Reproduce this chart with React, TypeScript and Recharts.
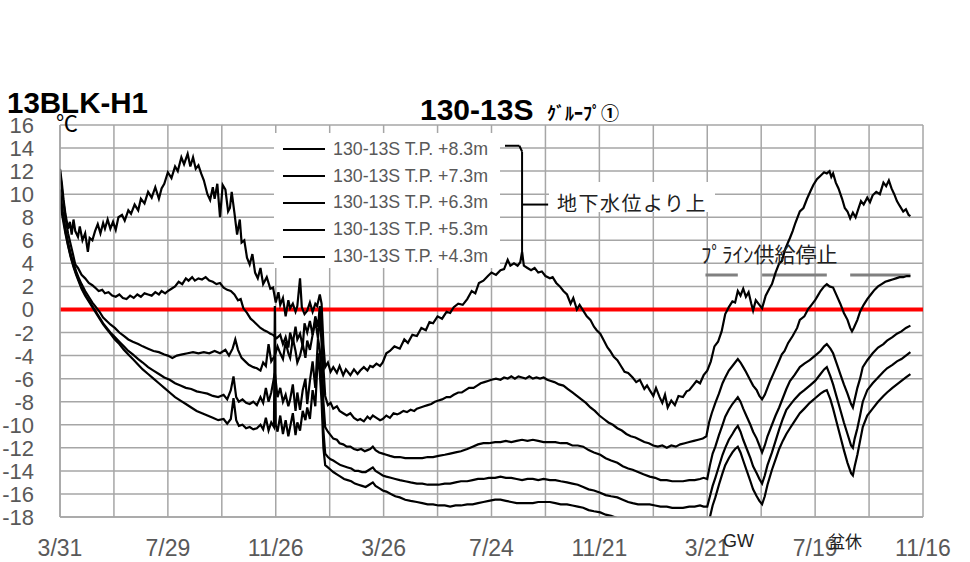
import React from 'react';
import { LineChart, Line, XAxis, YAxis, CartesianGrid, ReferenceLine, Legend } from 'recharts';

const xGridDays = [0, 60, 120, 180, 240, 300, 360, 420, 480, 540, 600, 660, 720, 780, 840, 900, 960];
const xLabelDays = [0, 120, 240, 360, 480, 600, 720, 840, 960];
const xLabels = ['3/31', '7/29', '11/26', '3/26', '7/24', '11/21', '3/21', '7/19', '11/16'];
const yTicks = [-18, -16, -14, -12, -10, -8, -6, -4, -2, 0, 2, 4, 6, 8, 10, 12, 14, 16];

const seriesNames = [
  '130-13S T.P. +8.3m',
  '130-13S T.P. +7.3m',
  '130-13S T.P. +6.3m',
  '130-13S T.P. +5.3m',
  '130-13S T.P. +4.3m',
];

// [day since 3/31, temperature °C]
const s83: [number, number][] = [
  [0, 12.2], [2, 11.0], [4, 9.5], [6, 8.3], [9, 7.0], [11, 7.6], [13, 6.5], [15, 7.8], [17, 6.8], [20, 6.3],
  [22, 7.2], [25, 6.0], [28, 6.6], [31, 5.0], [33, 6.2], [36, 6.0], [39, 6.8], [42, 7.4], [45, 6.6], [48, 7.5],
  [50, 7.0], [53, 7.8], [56, 7.0], [59, 7.6], [62, 6.9], [65, 8.0], [69, 8.2], [72, 7.7], [76, 8.6], [79, 8.3],
  [83, 9.1], [87, 8.6], [90, 9.6], [94, 9.2], [98, 10.2], [102, 9.7], [106, 10.6], [110, 9.6], [113, 10.5], [116, 10.9],
  [120, 11.9], [124, 11.4], [128, 12.4], [131, 12.0], [135, 13.2], [138, 12.6], [142, 13.5], [145, 12.4], [148, 13.2], [151, 12.2],
  [154, 12.5], [157, 11.8], [160, 11.2], [164, 10.0], [167, 9.5], [170, 10.6], [172, 9.6], [175, 10.9], [178, 8.0], [181, 10.8],
  [184, 10.4], [187, 8.5], [189, 8.8], [191, 10.2], [194, 8.4], [197, 6.5], [200, 7.8], [202, 5.8], [205, 6.0], [208, 4.5],
  [211, 3.9], [214, 4.8], [217, 3.2], [220, 2.7], [223, 3.6], [226, 2.2], [230, 2.8], [234, 1.8], [237, 1.9], [240, 0.6],
  [243, 1.5], [245, 0.4], [248, 1.0], [251, -0.6], [254, 0.8], [256, 0.1], [259, 0.5], [262, -0.2], [264, 0.3], [267, 2.7],
  [269, 0.2], [272, -0.4], [275, -0.1], [278, 0.6], [281, -0.2], [284, 0.5], [286, 0.3], [289, 1.3], [291, 0.5], [293, -3.0],
  [295, -5.0], [298, -4.6], [301, -5.4], [304, -5.0], [308, -5.5], [311, -4.9], [315, -5.7], [318, -5.2], [323, -5.7], [327, -5.2],
  [331, -5.6], [334, -5.3], [338, -5.0], [342, -5.3], [345, -4.9], [348, -5.0], [352, -4.7], [356, -4.9], [359, -4.6], [363, -3.8],
  [367, -3.6], [372, -3.2], [378, -3.4], [383, -2.6], [387, -2.9], [392, -2.2], [397, -2.3], [402, -1.6], [407, -1.8], [411, -1.1],
  [415, -1.2], [420, -0.6], [425, -0.8], [430, -0.2], [434, -0.3], [438, 0.2], [443, 0.5], [448, 0.4], [453, 0.9], [458, 1.6],
  [462, 1.4], [466, 2.3], [471, 2.5], [476, 2.9], [480, 3.2], [485, 3.0], [490, 3.4], [494, 3.5], [498, 4.3], [501, 3.8],
  [505, 4.0], [509, 3.8], [512, 4.1], [514, 5.0], [516, 3.8], [520, 3.6], [524, 3.4], [528, 3.6], [532, 3.2], [536, 3.3],
  [540, 2.9], [545, 2.7], [548, 2.8], [552, 2.3], [556, 2.0], [560, 1.6], [564, 1.3], [568, 0.5], [571, 1.0], [575, 0.0],
  [578, 0.4], [582, -0.1], [586, -0.6], [590, -0.9], [594, -1.5], [597, -1.8], [601, -2.1], [605, -2.7], [609, -3.3], [612, -3.6],
  [616, -4.1], [620, -4.4], [624, -4.9], [628, -5.4], [632, -5.5], [637, -5.9], [641, -6.3], [645, -6.1], [650, -6.9], [653, -6.6],
  [656, -7.0], [660, -7.5], [663, -6.8], [667, -7.6], [670, -8.1], [673, -7.4], [676, -8.5], [680, -7.9], [684, -8.3], [688, -7.5],
  [693, -7.6], [697, -7.1], [700, -7.0], [704, -6.6], [708, -6.2], [712, -6.4], [716, -5.7], [720, -5.3], [724, -4.5], [728, -3.2],
  [732, -2.8], [736, -1.9], [740, -0.4], [744, 0.2], [748, 0.7], [751, 0.6], [754, 1.6], [757, 1.2], [760, 1.8], [763, 1.1],
  [766, 1.5], [769, 0.5], [771, -0.1], [774, 0.8], [778, 0.4], [781, 0.1], [785, 1.2], [789, 1.8], [792, 2.2], [796, 3.2],
  [800, 4.0], [803, 4.2], [807, 5.3], [812, 6.2], [815, 6.8], [818, 7.5], [823, 8.5], [827, 8.8], [831, 9.6], [835, 10.3],
  [838, 10.8], [842, 11.3], [846, 11.6], [850, 11.9], [853, 11.8], [856, 12.0], [858, 11.5], [860, 11.8], [863, 11.0], [866, 10.5],
  [870, 9.6], [873, 8.8], [876, 8.5], [879, 7.9], [882, 8.4], [885, 8.0], [888, 8.7], [891, 9.4], [894, 9.1], [898, 9.7],
  [901, 9.3], [904, 9.9], [908, 10.2], [912, 10.0], [916, 11.0], [919, 10.7], [922, 11.2], [925, 10.5], [928, 10.0], [931, 9.4],
  [934, 9.0], [938, 8.5], [941, 8.7], [944, 8.2], [946, 8.1],
];

const s73: [number, number][] = [
  [0, 12.0], [3, 9.8], [6, 8.0], [9, 6.6], [12, 5.6], [15, 4.6], [17, 3.9], [20, 3.6], [24, 3.0], [28, 2.7],
  [32, 2.3], [36, 2.1], [39, 1.9], [43, 1.6], [47, 1.7], [50, 1.4], [54, 1.5], [58, 1.2], [62, 1.1], [66, 1.3],
  [70, 1.0], [74, 0.9], [78, 1.2], [82, 1.0], [86, 1.3], [90, 1.1], [94, 1.4], [98, 1.3], [102, 1.2], [106, 1.5],
  [110, 1.3], [113, 1.6], [117, 1.4], [120, 1.6], [124, 1.8], [128, 2.0], [132, 2.4], [136, 2.2], [140, 2.7], [143, 2.5],
  [147, 2.8], [150, 2.5], [154, 2.7], [158, 2.6], [162, 2.8], [166, 2.5], [170, 2.4], [174, 2.2], [178, 2.3], [182, 1.9],
  [186, 1.7], [190, 1.6], [194, 1.3], [198, 0.8], [201, 0.9], [204, 0.1], [208, -0.3], [212, -0.8], [215, -1.0], [219, -1.3],
  [223, -1.6], [227, -1.8], [230, -1.9], [234, -2.1], [237, -2.2], [241, -2.5], [245, -2.2], [248, -3.0], [251, -2.4], [254, -3.3],
  [256, -2.0], [259, -2.9], [262, -1.5], [264, -2.6], [267, -2.1], [270, -3.2], [272, -1.2], [275, -2.0], [278, -1.0], [281, -2.2],
  [284, -0.6], [287, -1.5], [289, 0.3], [291, -1.0], [293, -5.0], [295, -7.5], [298, -8.3], [301, -8.1], [304, -8.6], [308, -8.4],
  [311, -8.8], [315, -9.0], [319, -9.2], [323, -9.0], [327, -9.4], [331, -9.6], [334, -9.5], [338, -9.7], [342, -9.3], [345, -9.5],
  [348, -9.2], [352, -9.4], [356, -9.6], [359, -9.5], [363, -9.2], [367, -9.4], [371, -9.0], [375, -9.1], [378, -9.0], [382, -8.8],
  [386, -8.9], [390, -8.7], [394, -8.8], [397, -8.6], [401, -8.5], [405, -8.4], [409, -8.3], [413, -8.2], [417, -8.0], [421, -7.9],
  [425, -7.8], [430, -7.6], [434, -7.6], [438, -7.4], [443, -7.2], [447, -7.2], [451, -7.0], [455, -6.8], [460, -6.8], [464, -6.6],
  [468, -6.4], [472, -6.3], [476, -6.2], [480, -6.1], [485, -6.0], [490, -6.1], [494, -5.9], [498, -6.0], [502, -5.8], [506, -6.0],
  [510, -5.8], [514, -5.9], [518, -6.0], [522, -5.8], [526, -6.0], [530, -5.9], [534, -6.0], [538, -5.9], [542, -6.1], [546, -6.2],
  [550, -6.3], [555, -6.5], [560, -6.6], [565, -6.9], [570, -7.2], [575, -7.5], [580, -7.8], [585, -8.1], [590, -8.5], [595, -8.8],
  [600, -9.2], [605, -9.5], [610, -9.8], [615, -10.0], [620, -10.3], [625, -10.5], [630, -10.8], [635, -11.0], [640, -11.1], [645, -11.3],
  [650, -11.5], [655, -11.6], [660, -11.8], [665, -11.9], [670, -11.8], [675, -12.0], [680, -11.8], [685, -11.9], [690, -11.7], [695, -11.6],
  [700, -11.5], [705, -11.4], [710, -11.3], [715, -11.2], [719, -11.0], [722, -9.8], [725, -9.0], [729, -8.1], [733, -7.3], [737, -6.4],
  [740, -5.9], [744, -5.3], [748, -4.9], [751, -4.6], [754, -4.3], [757, -4.6], [760, -5.0], [763, -5.4], [767, -6.0], [771, -6.6],
  [775, -7.0], [778, -7.5], [781, -7.8], [784, -7.4], [787, -6.8], [790, -6.2], [794, -5.5], [798, -4.8], [803, -3.9], [806, -3.6],
  [810, -2.9], [815, -2.3], [820, -1.6], [823, -0.9], [828, -0.6], [832, 0.0], [836, 0.4], [840, 0.8], [843, 1.2], [846, 1.6],
  [850, 2.0], [853, 2.2], [856, 2.0], [860, 1.9], [864, 1.2], [868, 0.5], [872, -0.3], [876, -0.9], [879, -1.6], [881, -1.9],
  [883, -1.6], [887, -0.9], [890, -0.2], [894, 0.4], [898, 0.9], [902, 1.3], [906, 1.7], [910, 2.0], [914, 2.2], [918, 2.4],
  [922, 2.5], [926, 2.6], [930, 2.7], [934, 2.8], [938, 2.8], [942, 2.9], [946, 2.9],
];

const s63: [number, number][] = [
  [0, 10.4], [3, 8.5], [6, 7.0], [9, 5.8], [12, 4.8], [15, 4.0], [18, 3.3], [21, 2.7], [24, 2.2], [28, 1.6],
  [32, 1.1], [36, 0.6], [40, 0.2], [44, -0.2], [48, -0.7], [52, -1.0], [56, -1.3], [61, -1.6], [66, -2.0], [71, -2.3],
  [76, -2.6], [81, -2.8], [87, -3.0], [92, -3.2], [98, -3.4], [104, -3.6], [110, -3.7], [116, -3.9], [120, -4.0], [125, -4.2],
  [130, -4.0], [136, -3.9], [142, -3.8], [148, -3.7], [154, -3.8], [160, -3.7], [166, -3.8], [172, -3.6], [178, -3.8], [184, -3.5],
  [188, -4.0], [192, -3.4], [195, -2.6], [198, -3.5], [202, -4.2], [206, -4.5], [210, -4.8], [215, -5.0], [219, -5.1], [223, -5.3],
  [226, -4.6], [229, -4.9], [232, -3.0], [235, -4.5], [239, -4.0], [242, -3.2], [245, -3.8], [248, -4.3], [251, -2.8], [254, -3.8],
  [256, -4.2], [259, -2.5], [262, -3.6], [264, -4.6], [267, -4.0], [270, -3.0], [273, -4.2], [275, -2.7], [278, -3.5], [281, -2.2],
  [284, -1.0], [287, -2.5], [289, -0.4], [291, -3.0], [293, -8.0], [295, -10.2], [298, -10.6], [301, -10.9], [304, -11.2], [308, -11.3],
  [311, -11.6], [315, -11.7], [319, -11.9], [323, -11.9], [327, -12.1], [331, -12.2], [335, -12.1], [339, -12.3], [342, -12.2], [345, -12.1],
  [348, -11.9], [351, -12.2], [355, -12.4], [359, -12.5], [363, -12.6], [367, -12.7], [372, -12.8], [378, -12.8], [384, -12.9], [390, -12.9],
  [397, -12.9], [403, -12.9], [409, -12.8], [415, -12.8], [421, -12.7], [428, -12.6], [434, -12.5], [440, -12.4], [446, -12.3], [453, -12.1],
  [459, -11.9], [465, -11.7], [471, -11.6], [477, -11.6], [484, -11.5], [490, -11.5], [496, -11.4], [502, -11.5], [508, -11.4], [514, -11.3],
  [520, -11.4], [526, -11.3], [532, -11.4], [538, -11.5], [545, -11.5], [551, -11.5], [557, -11.6], [564, -11.6], [570, -11.8], [576, -11.8],
  [582, -11.9], [588, -12.2], [594, -12.4], [601, -12.6], [607, -12.9], [613, -13.1], [620, -13.3], [626, -13.6], [632, -13.8], [637, -13.9],
  [643, -14.1], [649, -14.3], [656, -14.5], [662, -14.6], [668, -14.8], [675, -14.8], [681, -14.9], [687, -14.9], [693, -14.9], [700, -14.8],
  [706, -14.8], [712, -14.7], [716, -14.6], [720, -14.7], [723, -13.5], [726, -12.5], [729, -11.9], [733, -10.9], [737, -10.0], [740, -9.3],
  [744, -8.7], [748, -8.2], [751, -7.9], [754, -7.6], [757, -8.0], [760, -8.6], [764, -9.3], [768, -10.0], [771, -10.6], [775, -11.2],
  [778, -11.8], [781, -12.4], [784, -11.8], [787, -11.0], [792, -10.0], [796, -9.2], [800, -8.5], [804, -7.7], [808, -6.9], [812, -6.2],
  [817, -5.7], [823, -5.0], [828, -4.7], [834, -4.4], [840, -4.0], [846, -3.6], [850, -3.2], [853, -3.0], [857, -3.4], [860, -3.8],
  [864, -4.7], [868, -5.6], [872, -6.5], [876, -7.3], [880, -8.2], [882, -8.5], [884, -7.8], [887, -6.8], [890, -6.0], [893, -5.0],
  [898, -4.4], [904, -3.8], [910, -3.3], [916, -3.0], [920, -2.7], [926, -2.4], [931, -2.1], [936, -1.9], [941, -1.6], [946, -1.4],
];

const s53: [number, number][] = [
  [0, 10.0], [3, 8.3], [6, 6.8], [9, 5.6], [12, 4.6], [15, 3.8], [18, 3.1], [21, 2.5], [24, 1.9], [28, 1.3],
  [32, 0.8], [36, 0.3], [40, -0.2], [44, -0.7], [48, -1.2], [52, -1.6], [56, -2.0], [61, -2.4], [66, -2.8], [71, -3.2],
  [76, -3.6], [81, -3.9], [87, -4.3], [92, -4.6], [98, -5.0], [104, -5.3], [110, -5.6], [116, -5.9], [122, -6.1], [128, -6.4],
  [134, -6.6], [140, -6.8], [146, -6.9], [152, -7.1], [158, -7.2], [164, -7.3], [170, -7.5], [176, -7.6], [182, -7.4], [186, -7.8],
  [190, -7.0], [193, -5.8], [196, -7.6], [199, -8.0], [203, -7.8], [207, -8.1], [211, -8.2], [215, -8.0], [219, -8.3], [223, -7.6],
  [226, -8.1], [229, -6.8], [232, -8.0], [235, -7.2], [239, -5.5], [242, -7.6], [245, -6.8], [248, -8.0], [251, -7.4], [254, -8.4],
  [256, -7.8], [259, -6.5], [262, -8.8], [264, -7.2], [267, -8.7], [270, -7.0], [273, -6.0], [275, -8.2], [278, -6.2], [281, -4.5],
  [284, -6.8], [287, -2.5], [289, -3.5], [291, -6.0], [293, -10.5], [295, -12.5], [298, -12.8], [301, -13.0], [304, -13.1], [308, -13.3],
  [312, -13.5], [316, -13.6], [320, -13.7], [324, -13.8], [328, -14.0], [332, -14.0], [336, -14.1], [340, -14.1], [344, -13.9], [348, -13.7],
  [351, -14.0], [355, -14.2], [359, -14.4], [363, -14.5], [368, -14.6], [373, -14.7], [378, -14.8], [384, -14.9], [390, -15.0], [397, -15.1],
  [403, -15.1], [409, -15.2], [415, -15.2], [421, -15.2], [428, -15.1], [434, -15.1], [440, -15.0], [446, -14.9], [453, -14.9], [459, -14.8],
  [465, -14.7], [471, -14.7], [477, -14.6], [484, -14.6], [490, -14.5], [496, -14.6], [502, -14.6], [508, -14.7], [514, -14.8], [520, -14.7],
  [526, -14.7], [532, -14.8], [538, -14.7], [545, -14.8], [551, -14.8], [557, -14.9], [564, -15.0], [570, -15.1], [576, -15.2], [582, -15.4],
  [588, -15.6], [594, -15.7], [601, -15.9], [607, -16.1], [613, -16.2], [620, -16.3], [626, -16.5], [632, -16.7], [637, -16.8], [643, -16.9],
  [649, -16.9], [656, -16.9], [662, -17.0], [668, -17.1], [675, -17.1], [681, -17.2], [687, -17.2], [693, -17.2], [700, -17.1], [706, -17.1],
  [712, -17.0], [716, -17.1], [720, -17.1], [723, -16.2], [726, -15.3], [729, -14.6], [733, -13.6], [737, -12.6], [740, -12.0], [744, -11.3],
  [748, -10.8], [751, -10.4], [754, -10.1], [757, -10.6], [760, -11.3], [764, -12.1], [768, -12.9], [771, -13.6], [775, -14.2], [778, -14.7],
  [781, -15.1], [784, -14.4], [787, -13.5], [792, -12.4], [796, -11.4], [800, -10.4], [804, -9.5], [808, -8.7], [812, -8.3], [817, -7.8],
  [823, -7.3], [828, -7.0], [834, -6.6], [840, -6.2], [846, -5.6], [850, -5.2], [853, -5.0], [857, -5.8], [860, -6.5], [864, -7.6],
  [868, -8.7], [872, -9.8], [876, -10.8], [880, -11.8], [882, -12.0], [884, -11.2], [887, -10.3], [890, -9.2], [893, -8.0], [898, -7.0],
  [904, -6.4], [910, -5.9], [916, -5.4], [920, -5.1], [926, -4.8], [931, -4.5], [936, -4.3], [941, -4.0], [946, -3.7],
];

const s43: [number, number][] = [
  [0, 9.4], [3, 7.9], [6, 6.6], [9, 5.5], [12, 4.5], [15, 3.7], [18, 3.0], [21, 2.4], [24, 1.8], [28, 1.2],
  [32, 0.7], [36, 0.2], [40, -0.3], [44, -0.8], [48, -1.3], [52, -1.7], [56, -2.1], [61, -2.6], [66, -3.0], [71, -3.5],
  [76, -3.9], [81, -4.3], [87, -4.8], [92, -5.2], [98, -5.6], [104, -6.0], [110, -6.4], [116, -6.8], [122, -7.2], [128, -7.6],
  [134, -7.9], [140, -8.2], [146, -8.5], [152, -8.8], [158, -9.0], [164, -9.2], [170, -9.4], [176, -9.6], [182, -9.5], [186, -9.9],
  [190, -9.5], [193, -7.7], [196, -9.6], [199, -10.1], [203, -10.0], [207, -10.3], [211, -10.2], [215, -10.4], [219, -10.3], [223, -10.0],
  [226, -10.4], [229, -9.4], [232, -10.5], [235, -9.8], [238, -10.2], [239, 0.3], [240, -10.0], [242, -10.6], [245, -9.2], [248, -10.8],
  [251, -9.6], [254, -11.0], [256, -10.2], [259, -9.0], [262, -10.9], [264, -9.8], [267, -10.5], [270, -8.8], [273, -9.6], [275, -8.5],
  [278, -9.5], [281, -7.0], [284, -8.4], [287, -3.8], [289, -5.5], [291, -8.0], [293, -12.0], [295, -13.5], [298, -13.7], [301, -13.9],
  [304, -14.1], [308, -14.3], [312, -14.5], [316, -14.7], [320, -14.8], [324, -14.9], [328, -15.1], [332, -15.2], [336, -15.3], [340, -15.4],
  [344, -15.2], [348, -15.0], [351, -15.3], [355, -15.5], [359, -15.7], [363, -15.8], [368, -16.0], [373, -16.2], [378, -16.3], [384, -16.5],
  [390, -16.6], [397, -16.7], [403, -16.8], [409, -16.9], [415, -16.9], [421, -17.0], [428, -17.0], [434, -17.1], [440, -17.0], [446, -17.0],
  [453, -16.9], [459, -16.9], [465, -16.8], [471, -16.7], [477, -16.6], [484, -16.5], [490, -16.5], [496, -16.6], [502, -16.7], [508, -16.8],
  [514, -16.8], [520, -16.8], [526, -16.8], [532, -16.7], [538, -16.7], [545, -16.7], [551, -16.8], [557, -16.9], [564, -16.9], [570, -17.0],
  [576, -17.1], [582, -17.2], [588, -17.4], [594, -17.5], [601, -17.6], [607, -17.8], [613, -17.9], [620, -18.1], [626, -18.3], [632, -18.4],
  [640, -18.5], [650, -18.6], [660, -18.7], [670, -18.8], [680, -18.9], [690, -18.9], [700, -18.9], [710, -18.8], [720, -18.8], [723, -18.0],
  [726, -17.0], [729, -16.3], [733, -15.2], [737, -14.2], [740, -13.5], [744, -12.9], [748, -12.4], [751, -12.1], [754, -11.9], [757, -12.4],
  [760, -13.1], [764, -14.0], [768, -14.9], [771, -15.6], [775, -16.2], [778, -16.6], [781, -16.9], [784, -16.2], [787, -15.2], [792, -13.9],
  [796, -13.0], [800, -12.1], [804, -11.4], [808, -10.8], [812, -10.3], [817, -9.7], [823, -9.0], [828, -8.6], [834, -8.1], [840, -7.7],
  [846, -7.3], [850, -7.1], [853, -7.0], [857, -7.8], [860, -8.6], [864, -9.8], [868, -11.0], [872, -12.2], [876, -13.3], [880, -14.2],
  [882, -14.4], [884, -13.6], [887, -12.6], [890, -11.4], [893, -10.2], [898, -9.2], [904, -8.6], [910, -8.0], [916, -7.5], [920, -7.2],
  [926, -6.8], [931, -6.5], [936, -6.2], [941, -5.9], [946, -5.6],
];

const seriesValues = [s83, s73, s63, s53, s43];

// brine supply stopped periods (days) at 3 °C
const brineStopPeriods: [number, number][] = [[718, 754], [781, 853], [879, 946]];
const brineLevel = 3;

const LATIN = "'Liberation Sans', Arial, sans-serif";
const CJK = "'Noto Sans CJK JP', 'Liberation Sans', sans-serif";
const GRID = '#a6a6a6';
const AXIS_TEXT = '#595959';

const toRows = (arr: [number, number][]) => arr.map(([d, v]) => ({ d, v }));

const XTick = (props: any) => {
  const { x, payload } = props;
  const i = xLabelDays.indexOf(payload.value);
  if (i < 0) return <g />;
  return (
    <text x={x} y={556} textAnchor="middle" fill={AXIS_TEXT} fontSize={23} fontFamily={LATIN}>
      {xLabels[i]}
    </text>
  );
};

const YTick = (props: any) => {
  const { y, payload } = props;
  return (
    <text x={34} y={y} dy={8} textAnchor="end" fill={AXIS_TEXT} fontSize={22} fontFamily={LATIN}>
      {payload.value}
    </text>
  );
};

const LegendBox = () => (
  <div style={{ background: '#fff', width: 226, height: 135, paddingTop: 3, boxSizing: 'border-box' }}>
    {seriesNames.map((name, i) => (
      <div key={i} style={{ display: 'flex', alignItems: 'center', height: 26.8 }}>
        <svg width={51} height={10} style={{ flex: 'none' }}>
          <line x1={9} y1={5} x2={51} y2={5} stroke="#000" strokeWidth={2} />
        </svg>
        <span style={{ marginLeft: 8, fontFamily: LATIN, fontSize: 17.8, color: AXIS_TEXT, whiteSpace: 'nowrap' }}>
          {name}
        </span>
      </div>
    ))}
  </div>
);

export default function App() {
  return (
    <div style={{ position: 'absolute', left: 0, top: 0, width: 970, height: 562, background: '#fff', overflow: 'hidden' }}>
      <LineChart width={970} height={562} margin={{ top: 125, right: 47, bottom: 0, left: 0 }}>
        <CartesianGrid stroke={GRID} strokeWidth={1.5} />
        <XAxis
          dataKey="d"
          type="number"
          domain={[0, 960]}
          ticks={xGridDays}
          interval={0}
          height={45}
          tickLine={false}
          axisLine={{ stroke: GRID, strokeWidth: 1.5 }}
          tick={<XTick />}
          allowDataOverflow
        />
        <YAxis
          type="number"
          domain={[-18, 16]}
          ticks={yTicks}
          interval={0}
          width={60}
          tickLine={false}
          axisLine={{ stroke: GRID, strokeWidth: 1.5 }}
          tick={<YTick />}
          allowDataOverflow
        />
        <ReferenceLine y={0} stroke="#ff0000" strokeWidth={4} />
        {brineStopPeriods.map(([a, b], i) => (
          <ReferenceLine
            key={'b' + i}
            segment={[{ x: a, y: brineLevel }, { x: b, y: brineLevel }]}
            stroke="#808080"
            strokeWidth={3}
          />
        ))}
        <ReferenceLine segment={[{ x: 495, y: 14.2 }, { x: 511, y: 14.2 }]} stroke="#000" strokeWidth={2} />
        <ReferenceLine segment={[{ x: 511, y: 14.2 }, { x: 514, y: 13.7 }]} stroke="#000" strokeWidth={2} />
        <ReferenceLine segment={[{ x: 514, y: 13.7 }, { x: 514, y: 4.3 }]} stroke="#000" strokeWidth={2} />
        <ReferenceLine segment={[{ x: 514, y: 9.1 }, { x: 543, y: 9.1 }]} stroke="#000" strokeWidth={2} />
        {seriesValues.map((s, i) => (
          <Line
            key={i}
            data={toRows(s)}
            dataKey="v"
            name={seriesNames[i]}
            type="linear"
            stroke="#000"
            strokeWidth={2.2}
            dot={false}
            activeDot={false}
            isAnimationActive={false}
          />
        ))}
        <Legend
          layout="vertical"
          align="center"
          verticalAlign="middle"
          content={<LegendBox />}
          wrapperStyle={{ left: 274, top: 133, width: 226, height: 135 }}
        />
      </LineChart>
      <svg width={970} height={562} style={{ position: 'absolute', left: 0, top: 0, pointerEvents: 'none' }}>
        <text x={7} y={113} fontFamily={LATIN} fontWeight="bold" fontSize={29.5} fill="#000">13BLK-H1</text>
        <text x={56} y={131} fontFamily={CJK} fontSize={22} fill="#000">℃</text>
        <text x={420} y={120} fontFamily={LATIN} fontWeight="bold" fontSize={30} fill="#000">130-13S</text>
        <text x={547} y={120} fontFamily={CJK} fontWeight="bold" fontSize={18} fill="#000">ｸﾞﾙｰﾌﾟ①</text>
        <rect x={549} y={182} width={166} height={30} fill="#fff" />
        <text x={557} y={211} fontFamily={CJK} fontSize={20} letterSpacing={1.5} fill="#222">地下水位より上</text>
        <text x={701} y={262} fontFamily={CJK} fontSize={21} fill="#222">ﾌﾟﾗｲﾝ供給停止</text>
        <text x={723} y={547} fontFamily={LATIN} fontSize={18} fill="#222">GW</text>
        <text x={828} y={548} fontFamily={CJK} fontSize={17} fill="#222">盆休</text>
      </svg>
    </div>
  );
}
